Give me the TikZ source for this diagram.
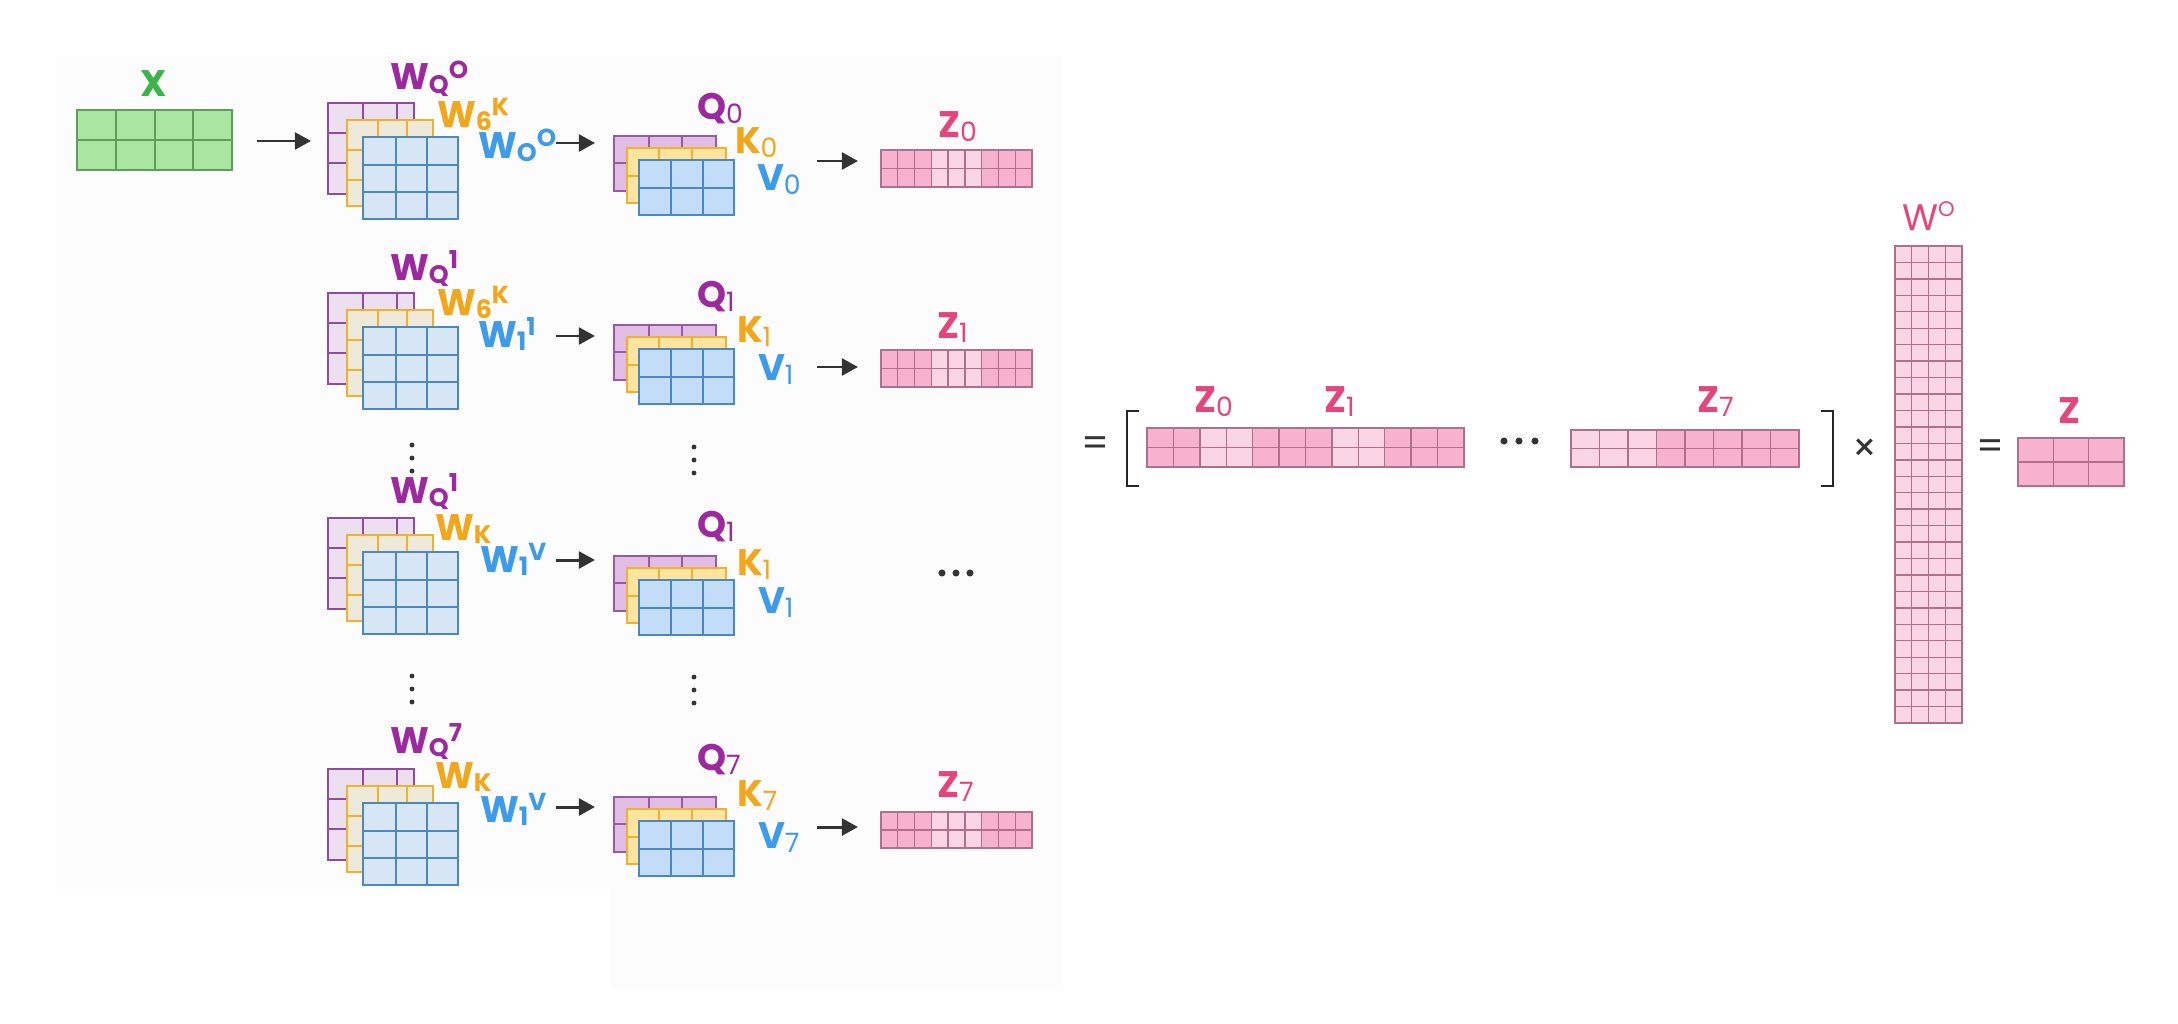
\documentclass[tikz,border=0pt]{standalone}
\usepackage{fontspec}
\setmainfont{Poppins}
\usetikzlibrary{arrows.meta,fit}
\definecolor{labP}{HTML}{9C2A9E}
\definecolor{labO}{HTML}{F2A61C}
\definecolor{labB}{HTML}{3D9BE9}
\definecolor{labG}{HTML}{3CB44B}
\definecolor{labZ}{HTML}{E6457B}
\definecolor{wPf}{HTML}{EBDFF0}\definecolor{wPd}{HTML}{8F4C9E}
\definecolor{wOf}{HTML}{EFE9DA}\definecolor{wOd}{HTML}{F0B12E}
\definecolor{wBf}{HTML}{D6E6F5}\definecolor{wBd}{HTML}{4C87BF}
\definecolor{qPf}{HTML}{E2BDE3}\definecolor{qPd}{HTML}{9A5AA3}
\definecolor{kOf}{HTML}{FDE49F}\definecolor{kOd}{HTML}{F2B030}
\definecolor{vBf}{HTML}{C3DDF8}\definecolor{vBd}{HTML}{4B88C2}
\definecolor{gf}{HTML}{A8E6A1}\definecolor{gd}{HTML}{5E9E5A}
\definecolor{pkM}{HTML}{F7B2CF}\definecolor{pkL}{HTML}{FAD6E5}\definecolor{zd}{HTML}{B0708C}
\definecolor{arrowc}{HTML}{333333}
\newcommand\Lab[3]{#1\raisebox{-1.0pt}{\fontsize{7.2}{8}\selectfont #2}\raisebox{3.4pt}{\fontsize{7.0}{8}\selectfont #3}}
\newcommand\Sub[2]{#1\raisebox{-1.3pt}{\fontsize{7.6}{8}\selectfont\mdseries #2}}
% grid box: name, style, x1, y1, x2, y2, xlines, ylines
\newcommand\gbox[8]{%
  \node[fit={(#3,#4) (#5,#6)}, inner sep=0, outer sep=0, #2] (#1) {};
  \foreach \xx in {#7} {\draw[#2, fill=none, line width=0.45pt] (\xx,#4) -- (\xx,#6);}
  \foreach \yy in {#8} {\draw[#2, fill=none, line width=0.45pt] (#3,\yy) -- (#5,\yy);}
}
% pink matrix: name, x1, y1, x2, y2, ncols, pattern
\newcommand\zmat[7]{%
  \node[fit={(#2,#3) (#4,#5)}, inner sep=0, outer sep=0] (#1) {};
  \pgfmathsetmacro\zw{(#4-#2)/#6}
  \pgfmathtruncatemacro\zlast{#6-1}
  \foreach \cc [count=\ii from 0] in {#7} {
    \fill[fill=pk\cc] ({#2+\ii*\zw},#3) rectangle ({#2+(\ii+1)*\zw},#5);
  }
  \foreach \ii in {1,...,\zlast} {\draw[zline] ({#2+\ii*\zw},#3) -- ({#2+\ii*\zw},#5);}
  \draw[zline] (#2,{(#3+#5)/2}) -- (#4,{(#3+#5)/2});
  \draw[zborder] (#2,#3) rectangle (#4,#5);
}
\begin{document}
\begin{tikzpicture}[x=0.01cm,y=-0.01cm,
  lbl/.style={inner sep=0, outer sep=0, anchor=base west, font=\fontsize{10.5}{12}\selectfont\bfseries},
  arr/.style={draw=arrowc, line width=0.85pt, -{Triangle[length=4.6pt,width=4.8pt]}},
  sign/.style={inner sep=0, text=arrowc, font=\fontsize{11}{12}\selectfont},
  brk/.style={draw=black!85, line width=0.8pt},
  wP/.style={fill=wPf, draw=wPd, line width=0.6pt},
  wO/.style={fill=wOf, draw=wOd, line width=0.6pt},
  wB/.style={fill=wBf, draw=wBd, line width=0.6pt},
  qP/.style={fill=qPf, draw=qPd, line width=0.6pt},
  kO/.style={fill=kOf, draw=kOd, line width=0.6pt},
  vB/.style={fill=vBf, draw=vBd, line width=0.6pt},
  gm/.style={fill=gf, draw=gd, line width=0.6pt},
  zline/.style={draw=zd, line width=0.4pt},
  zborder/.style={draw=zd, line width=0.6pt},
  panel/.style={fill=black!1.2}
]
\useasboundingbox (0,0) rectangle (2178,1024);
\fill[white] (0,0) rectangle (2178,1024);
\fill[panel] (56,56) rectangle (1063,889);
\fill[panel] (611,889) rectangle (1063,989);

% input X
\node[lbl, anchor=base, text=labG] (xl) at (154,97) {X};
\gbox{xm}{gm}{77}{110}{232}{170}{116,155,193}{140}
\coordinate (a0s) at (257,141); \coordinate (a0e) at (311,141);
\draw[arr] (a0s) -- (a0e);

% weight stacks
\foreach \r/\dy in {0/0,1/190,2/415,3/666}{
  \gbox{wp\r}{wP}{328}{103+\dy}{414}{194+\dy}{363,397}{133+\dy,163+\dy}
  \gbox{wo\r}{wO}{347}{120+\dy}{433}{206+\dy}{378,407}{150+\dy,180+\dy}
  \gbox{wb\r}{wB}{363}{137+\dy}{458}{219+\dy}{396,427}{165+\dy,192+\dy}
}
% Q K V stacks
\foreach \r/\dy in {0/0,1/189,2/420,3/661}{
  \gbox{q\r}{qP}{614}{136+\dy}{716}{191+\dy}{649,682}{163+\dy}
  \gbox{k\r}{kO}{627}{148+\dy}{726}{203+\dy}{659,692}{176+\dy}
  \gbox{v\r}{vB}{639}{160+\dy}{734}{215+\dy}{671,703}{188+\dy}
}

% weight labels
\node[lbl, text=labP] (lwq0) at (390,90) {\Lab{W}{Q}{O}};
\node[lbl, text=labO] (lwk0) at (437,127) {\Lab{W}{6}{K}};
\node[lbl, text=labB] (lwv0) at (478,158) {\Lab{W}{O}{O}};
\node[lbl, text=labP] (lwq1) at (390,280) {\Lab{W}{Q}{1}};
\node[lbl, text=labO] (lwk1) at (437,315) {\Lab{W}{6}{K}};
\node[lbl, text=labB] (lwv1) at (478,347) {\Lab{W}{1}{1}};
\node[lbl, text=labP] (lwq2) at (390,503) {\Lab{W}{Q}{1}};
\node[lbl, text=labO] (lwk2) at (435,540) {\Lab{W}{K}{}};
\node[lbl, text=labB] (lwv2) at (480,572) {\Lab{W}{1}{V}};
\node[lbl, text=labP] (lwq3) at (390,753) {\Lab{W}{Q}{7}};
\node[lbl, text=labO] (lwk3) at (435,788) {\Lab{W}{K}{}};
\node[lbl, text=labB] (lwv3) at (480,822) {\Lab{W}{1}{V}};

% QKV labels
\node[lbl, text=labP] (lq0) at (697,119) {\Sub{Q}{0}};
\node[lbl, text=labO] (lk0) at (735,153) {\Sub{K}{0}};
\node[lbl, text=labB] (lv0) at (757,190) {\Sub{V}{0}};
\node[lbl, text=labP] (lq1) at (697,307) {\Sub{Q}{1}};
\node[lbl, text=labO] (lk1) at (737,342) {\Sub{K}{1}};
\node[lbl, text=labB] (lv1) at (758,380) {\Sub{V}{1}};
\node[lbl, text=labP] (lq2) at (697,537) {\Sub{Q}{1}};
\node[lbl, text=labO] (lk2) at (737,575) {\Sub{K}{1}};
\node[lbl, text=labB] (lv2) at (758,613) {\Sub{V}{1}};
\node[lbl, text=labP] (lq3) at (697,770) {\Sub{Q}{7}};
\node[lbl, text=labO] (lk3) at (737,806) {\Sub{K}{7}};
\node[lbl, text=labB] (lv3) at (758,848) {\Sub{V}{7}};

% arrows W -> QKV
\foreach \r/\y in {0/143,1/336,2/560,3/807}{
  \coordinate (b\r s) at (556,\y); \coordinate (b\r e) at (595,\y);
  \draw[arr] (b\r s) -- (b\r e);
}
% arrows QKV -> Z
\foreach \r/\y in {0/161,1/367,3/827}{
  \coordinate (c\r s) at (817,\y); \coordinate (c\r e) at (858,\y);
  \draw[arr] (c\r s) -- (c\r e);
}

% head outputs
\zmat{z0}{881}{150}{1032}{187}{9}{M,M,M,L,L,L,M,M,M}
\zmat{z1}{881}{350}{1032}{387}{9}{M,M,M,L,L,L,M,M,M}
\zmat{z3}{881}{812}{1032}{848}{9}{M,M,M,L,L,L,M,M,M}
\node[lbl, text=labZ] (lz0) at (938,137) {\Sub{Z}{0}};
\node[lbl, text=labZ] (lz1) at (937,338) {\Sub{Z}{1}};
\node[lbl, text=labZ] (lz3) at (937,797) {\Sub{Z}{7}};

% vertical ellipses
\foreach \yy in {445,458,471} {\fill[arrowc] (412,\yy) circle (0.7pt); \fill[arrowc] (694,\yy+2) circle (0.7pt);}
\foreach \yy in {676,689,702} {\fill[arrowc] (412,\yy) circle (0.7pt); \fill[arrowc] (694,\yy+1) circle (0.7pt);}
% horizontal ellipsis in row 2
\foreach \xx in {942,956,970} {\fill[arrowc] (\xx,573) circle (1pt);}

% concatenation
\node[sign] (eq1) at (1095,447) {=};
\draw[brk] (1139,411) -- (1127,411) -- (1127,486) -- (1139,486);
\zmat{zc}{1147}{428}{1464}{467}{12}{M,M,L,L,M,M,M,L,L,M,M,M}
\node[lbl, text=labZ] (lzc0) at (1194,412) {\Sub{Z}{0}};
\node[lbl, text=labZ] (lzc1) at (1324,412) {\Sub{Z}{1}};
\foreach \xx in {1504,1519,1535} {\fill[arrowc] (\xx,441) circle (1pt);}
\zmat{zc7}{1571}{430}{1799}{467}{8}{L,L,L,M,M,M,M,M}
\node[lbl, text=labZ] (lzc7) at (1697,412) {\Sub{Z}{7}};
\draw[brk] (1821,411) -- (1833,411) -- (1833,486) -- (1821,486);
\node[sign] (times) at (1865,450) {×};

% W^O
\node[fit={(1895,246) (1962,723)}, inner sep=0, outer sep=0, fill=pkL] (wom) {};
\foreach \xx in {1,2,3} {\draw[zline] ({1895+\xx*16.75},246) -- ({1895+\xx*16.75},723);}
\foreach \yy in {1,...,28} {\draw[zline] (1895,{246+\yy*477/29}) -- (1962,{246+\yy*477/29});}
\draw[zborder] (1895,246) rectangle (1962,723);
\node[lbl, text=labZ, font=\fontsize{10.5}{12}\selectfont] (lwo) at (1902,230) {W\raisebox{3.8pt}{\fontsize{6}{7}\selectfont O}};

% result
\node[sign] (eq2) at (1990,450) {=};
\zmat{zr}{2018}{438}{2124}{486}{3}{M,M,M}
\node[lbl, text=labZ] (lzr) at (2058,423) {Z};
\end{tikzpicture}
\end{document}
